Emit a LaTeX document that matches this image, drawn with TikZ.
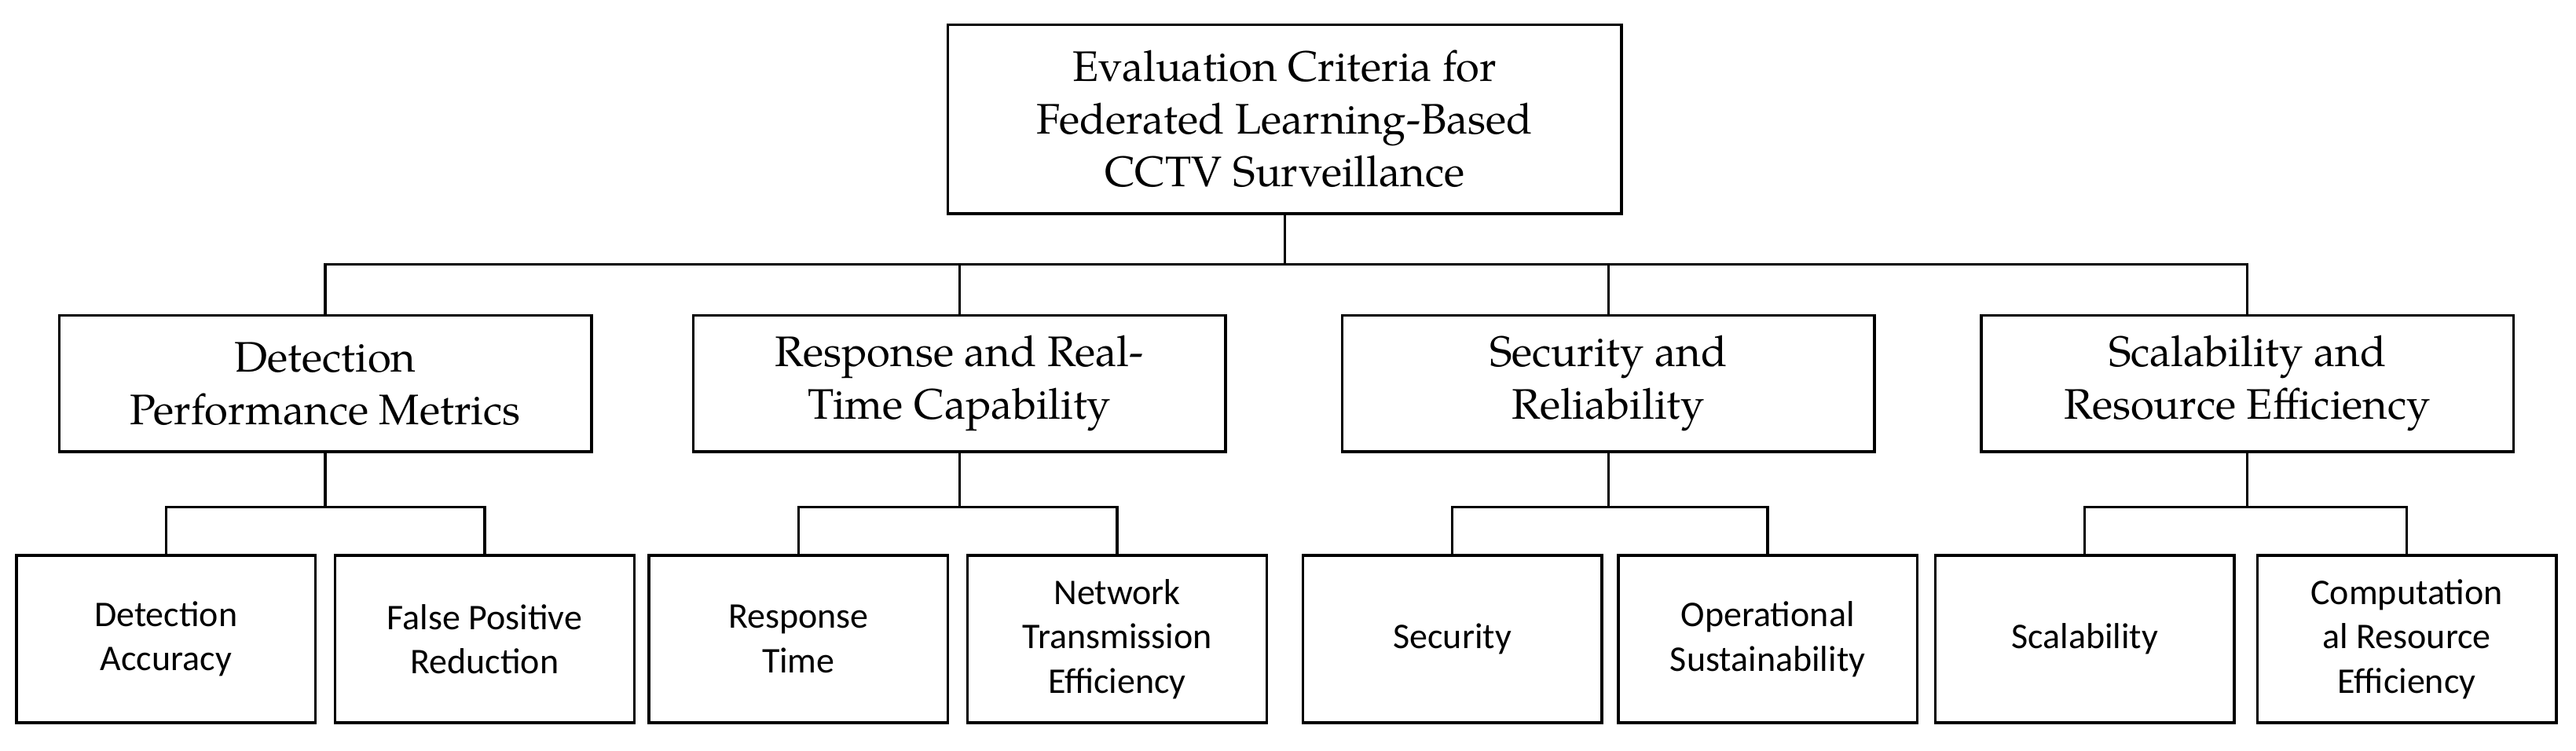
\documentclass[tikz,border=0pt]{standalone}
\usepackage{fontspec}
\setmainfont{TeX Gyre Pagella}[Scale=1]
\newfontfamily\leaffont{Carlito}
\begin{document}
\begin{tikzpicture}[x=0.5pt,y=-0.5pt,
  box/.style={draw,line width=0.8pt,align=center,inner sep=0pt},
  top/.style={box,minimum width=205pt,minimum height=57.5pt,font=\fontsize{13}{16}\selectfont},
  mid/.style={box,minimum width=162pt,minimum height=41.5pt,font=\fontsize{13}{16}\selectfont},
  leaf/.style={box,minimum width=91pt,minimum height=51pt,font=\leaffont\fontsize{11}{13.5}\selectfont},
  ln/.style={line width=0.8pt}]
\useasboundingbox (0,0) rectangle (1568,457);
\node[top] (t) at (782,72.5) {Evaluation Criteria for\\Federated Learning-Based\\CCTV Surveillance};
\node[mid] (a) at (198,233.5) {Detection\\Performance Metrics};
\node[mid] (b) at (584,233.5) {Response and Real-\\Time Capability};
\node[mid] (c) at (979,233.5) {Security and\\Reliability};
\node[mid] (d) at (1368,233.5) {Scalability and\\Resource Efficiency};
\node[leaf] (a1) at (101,389) {Detection\\Accuracy};
\node[leaf] (a2) at (295,389) {False Positive\\Reduction};
\node[leaf] (b1) at (486,389) {Response\\Time};
\node[leaf] (b2) at (680,389) {Network\\Transmission\\Efficiency};
\node[leaf] (c1) at (884,389) {Security};
\node[leaf] (c2) at (1076,389) {Operational\\Sustainability};
\node[leaf] (d1) at (1269,389) {Scalability};
\node[leaf] (d2) at (1465,389) {Computation\\al Resource\\Efficiency};
\foreach \m in {a,b,c,d}{\draw[ln] (t.south) -- ++(0,30) -| (\m.north);}
\foreach \m in {a,b,c,d}{
  \draw[ln] (\m.south) -- ++(0,33) -| (\m1.north);
  \draw[ln] (\m.south) -- ++(0,33) -| (\m2.north);}
\end{tikzpicture}
\end{document}
